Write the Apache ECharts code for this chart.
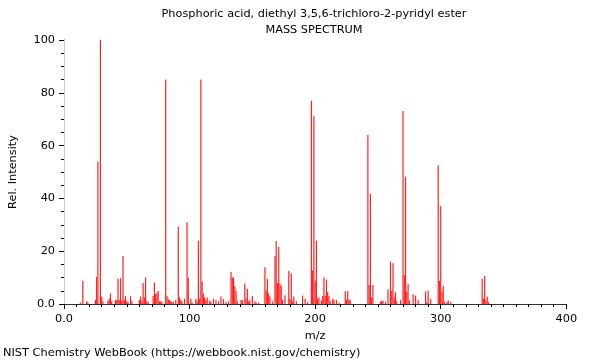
<!DOCTYPE html>
<html>
<head>
<meta charset="utf-8">
<script src="https://cdn.jsdelivr.net/npm/echarts@6/dist/echarts.min.js"></script>
<style>html,body{margin:0;padding:0;background:#fff}#c{width:600px;height:360px}</style>
</head>
<body>
<div id="c"></div>
<script>
const titleLine1 = "Phosphoric acid, diethyl 3,5,6-trichloro-2-pyridyl ester";
const titleLine2 = "MASS SPECTRUM";
const footer = "NIST Chemistry WebBook (https://webbook.nist.gov/chemistry)";
const xName = "m/z";
const yName = "Rel. Intensity";

const mz = [13,15,18,19,25,26,27,29,30,31,35,36,37,38,41,42,43,44,45,46,47,48,49,50,51,53,54,
  60,61,62,63,64,65,66,67,71,72,73,74,75,76,77,78,81,82,83,84,85,86,87,89,91,92,93,94,96,98,99,
  101,102,105,106,107,108,109,110,111,112,113,114,116,117,119,121,123,125,127,129,131,
  133,134,135,136,137,138,141,142,144,145,146,147,148,150,152,153,155,
  160,161,162,163,164,166,168,169,170,171,172,173,174,176,179,180,181,182,183,185,
  190,192,194,197,198,199,200,201,202,203,205,206,207,208,209,210,211,212,214,215,217,219,
  224,225,226,227,228,242,243,244,245,246,252,253,254,256,258,260,261,262,263,264,265,268,
  270,271,272,273,274,275,278,280,282,288,289,290,292,298,299,300,301,302,303,305,306,308,
  333,334,335,336,337,338];
const intensity = [0.6,8.8,1,0.6,1.5,10.3,54,100,2.8,1,1.2,2,4,1,1.5,1.5,9.6,1.5,9.8,1.2,18.2,1.5,3,1,0.8,3,1,
  1.5,2.8,1,8,2.5,10.1,1,0.8,3,8.1,3.8,4.2,5,1,1,0.8,85,3,2,1.5,1,0.8,0.8,1.5,29.3,2.5,1.5,1,2,31,10,
  2,0.6,2,1,24,2,85,8.5,4,2.5,1.5,2.5,1.3,0.8,2,1.5,1,2.8,1.8,0.8,1,
  12.2,10,10,6.8,5,1,1.5,1.5,7.8,2,5.7,1,1.5,3,1,0.6,0.6,
  13.9,5,9.6,4,2.8,1,18.2,23.9,8,21.7,7.8,7,1.5,3.3,12.5,2,11.6,1,2.8,1,
  3.2,2,0.8,77,12.8,71.2,8.8,24,2,2.6,1.3,3,10.1,3,9.3,4.5,3,1,2,1.5,1.5,0.5,
  4.8,1.5,4.9,1.8,1.3,64,7.2,41.7,2.5,7.2,0.8,1.2,1.2,0.8,5.5,16,5,15.4,2.5,4.5,1,1.5,
  73.1,11,48.2,4.8,7.6,1.3,3.7,3.2,1.5,4.7,0.7,5.1,2,52.6,8.8,37.1,4.7,6.8,0.8,0.8,1.3,0.8,
  9.6,2,10.6,1.5,2.8,0.7];

const xTicks = [0,100,200,300,400];
const yTicks = [0,20,40,60,80,100];

const font = "DejaVu Sans";
const fmt = v => (v === 0 ? "0.0" : String(v));

const chart = echarts.init(document.getElementById('c'), null, {renderer: 'canvas'});
chart.setOption({
  animation: false,
  backgroundColor: '#fff',
  textStyle: {fontFamily: font},
  grid: {left: 61.5, right: 33.7, top: 40, bottom: 56, containLabel: false},
  graphic: [
    {type: 'text', x: 314, y: 14, style: {text: titleLine1, fontFamily: font, fontSize: 11.3, fill: '#000', textAlign: 'center', textVerticalAlign: 'middle'}},
    {type: 'text', x: 314, y: 30, style: {text: titleLine2, fontFamily: font, fontSize: 11.3, fill: '#000', textAlign: 'center', textVerticalAlign: 'middle'}},
    {type: 'text', x: 3, y: 353, style: {text: footer, fontFamily: font, fontSize: 11.35, fill: '#000', textAlign: 'left', textVerticalAlign: 'middle'}}
  ],
  xAxis: [{
    type: 'value', min: xTicks[0], max: xTicks[xTicks.length-1], interval: 100,
    name: xName, nameLocation: 'middle', nameGap: 27,
    nameTextStyle: {fontFamily: font, fontSize: 11.3, color: '#000'},
    axisLine: {show: true, lineStyle: {color: '#000', width: 1}},
    axisTick: {show: true, length: 5, lineStyle: {color: '#000'}},
    minorTick: {show: true, splitNumber: 10, length: 3, lineStyle: {color: '#000'}},
    axisLabel: {formatter: fmt, fontFamily: font, fontSize: 11.3, color: '#000', margin: 10},
    splitLine: {show: false}
  }, {
    type: 'value', position: 'top', min: 0, max: 400,
    axisLine: {show: true, lineStyle: {color: '#333'}},
    axisTick: {show: false}, axisLabel: {show: false}, splitLine: {show: false}
  }],
  yAxis: [{
    type: 'value', min: yTicks[0], max: yTicks[yTicks.length-1], interval: 20,
    name: yName, nameLocation: 'middle', nameGap: 45,
    nameTextStyle: {fontFamily: font, fontSize: 11.3, color: '#000'},
    axisLine: {show: true, lineStyle: {color: '#000', width: 1}},
    axisTick: {show: true, length: 5, lineStyle: {color: '#000'}},
    minorTick: {show: true, splitNumber: 4, length: 3, lineStyle: {color: '#000'}},
    axisLabel: {formatter: fmt, fontFamily: font, fontSize: 11.3, color: '#000', margin: 9},
    splitLine: {show: false}
  }, {
    type: 'value', position: 'right', min: 0, max: 100,
    axisLine: {show: true, lineStyle: {color: '#ccc'}},
    axisTick: {show: false}, axisLabel: {show: false}, splitLine: {show: false}
  }],
  series: [{
    type: 'bar', xAxisIndex: 0, yAxisIndex: 0,
    barWidth: 1.2,
    itemStyle: {color: '#ff2020'},
    data: mz.map((m, i) => [m, intensity[i]])
  }]
});
</script>
</body>
</html>
